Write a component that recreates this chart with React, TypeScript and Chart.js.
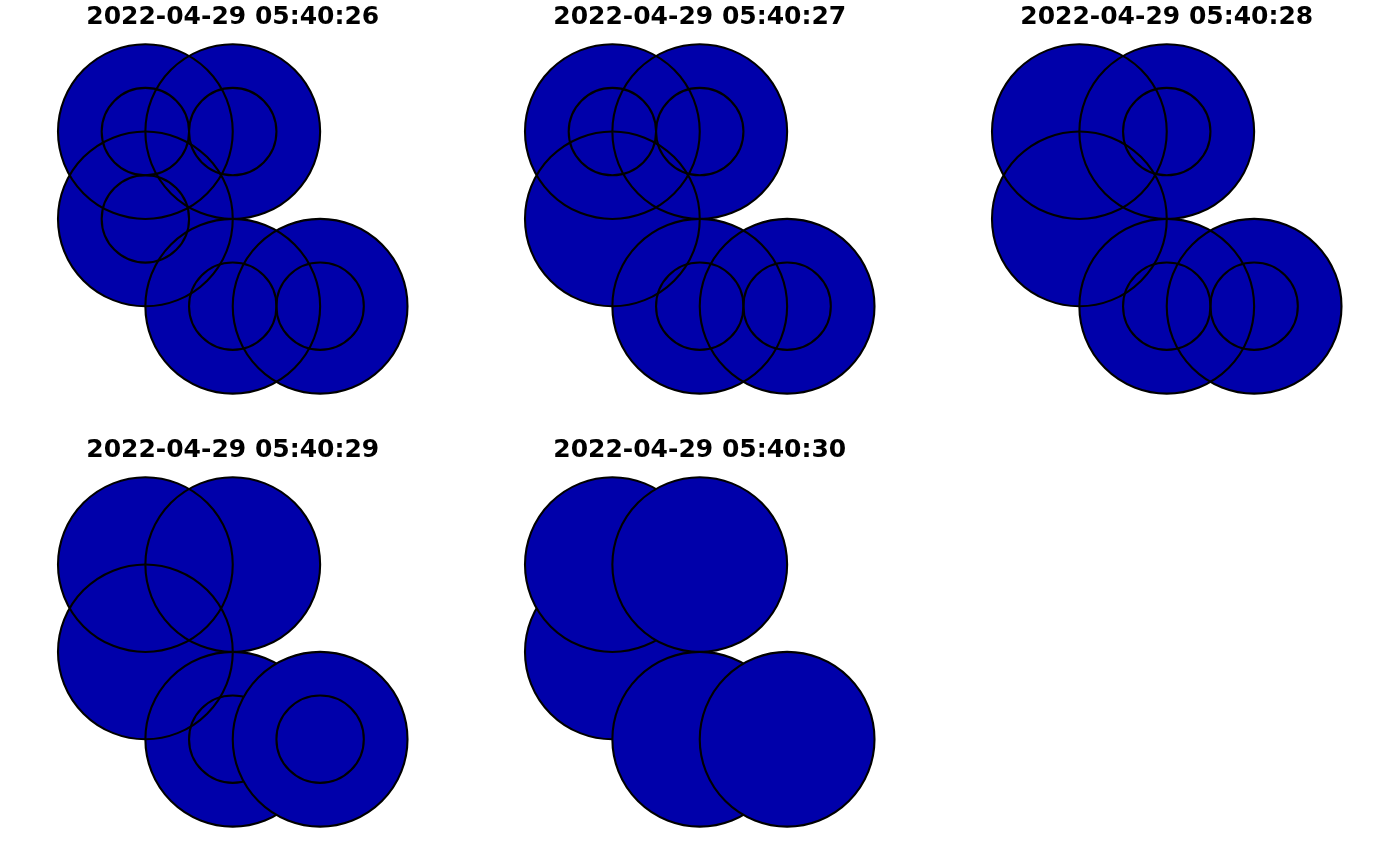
import React, { useEffect, useRef } from "react";
import { Chart, registerables } from "chart.js";

Chart.register(...registerables);

// Panel titles (one per time step)
const panelTitles = [
  "2022-04-29 05:40:26",
  "2022-04-29 05:40:27",
  "2022-04-29 05:40:28",
  "2022-04-29 05:40:29",
  "2022-04-29 05:40:30",
];

// Five sites (same positions in every panel)
const siteX = [1, 2, 1, 2, 3];
const siteY = [3, 3, 2, 1, 1];
const outerRadius = [1, 1, 1, 1, 1];
const innerRadius = [0.5, 0.5, 0.5, 0.5, 0.5];

// Whether the inner circle is present, per panel, per site
const innerShown = [
  [1, 1, 1, 1, 1],
  [1, 1, 0, 1, 1],
  [0, 1, 0, 1, 1],
  [0, 0, 0, 1, 1],
  [0, 0, 0, 0, 0],
];

// Drawing layers per panel (site indices drawn together)
const drawLayers = [
  [[0, 1, 2, 3, 4]],
  [[0, 1, 2, 3, 4]],
  [[0, 1, 2, 3, 4]],
  [[0, 1, 2, 3], [4]],
  [[2], [0], [1], [3], [4]],
];

const axisMin = 0;
const axisMax = 4;

const FILL = "#0000AA";
const STROKE = "#000000";

const PANEL_W = 466;
const PANEL_H = 433;
const panelLeft = [0, 467, 934, 0, 467];
const panelTop = [0, 0, 0, 433, 433];

function radiusPx(ctx: any): number {
  const raw = ctx && ctx.raw;
  if (!raw || typeof raw.r !== "number") return 0;
  const s = ctx.chart.scales.x;
  return Math.abs(s.getPixelForValue(raw.r) - s.getPixelForValue(0));
}

function buildDatasets(panel: number) {
  const layers = drawLayers[panel];
  const seq: any[] = [];
  layers.forEach((layer) => {
    const fillPts = layer.map((i) => ({ x: siteX[i], y: siteY[i], r: outerRadius[i] }));
    const strokePts: any[] = [];
    layer.forEach((i) => strokePts.push({ x: siteX[i], y: siteY[i], r: outerRadius[i] }));
    layer.forEach((i) => {
      if (innerShown[panel][i]) strokePts.push({ x: siteX[i], y: siteY[i], r: innerRadius[i] });
    });
    seq.push({
      data: fillPts,
      pointBackgroundColor: FILL,
      pointBorderColor: FILL,
      pointBorderWidth: 0,
    });
    seq.push({
      data: strokePts,
      pointBackgroundColor: "rgba(0,0,0,0)",
      pointBorderColor: STROKE,
      pointBorderWidth: 2.1,
    });
  });
  const n = seq.length;
  return seq.map((d, k) => ({
    ...d,
    showLine: false,
    clip: false,
    order: n - k,
    pointRadius: radiusPx,
    pointHoverRadius: radiusPx,
    pointHitRadius: 0,
    pointStyle: "circle",
  }));
}

function Panel({ index }: { index: number }) {
  const ref = useRef<HTMLCanvasElement | null>(null);
  useEffect(() => {
    if (!ref.current) return;
    const chart = new Chart(ref.current, {
      type: "scatter",
      data: { datasets: buildDatasets(index) as any },
      options: {
        animation: false,
        responsive: false,
        events: [],
        layout: { padding: { left: 58, right: 58.5, top: 0, bottom: 39.5 } },
        plugins: {
          legend: { display: false },
          tooltip: { enabled: false },
          title: {
            display: true,
            text: panelTitles[index],
            color: "#000000",
            font: { family: "DejaVu Sans", weight: "bold", size: 25, lineHeight: 1.2 },
            padding: { top: 2, bottom: 12.3 },
          },
        },
        scales: {
          x: { type: "linear", min: axisMin, max: axisMax, display: false },
          y: { type: "linear", min: axisMin, max: axisMax, display: false },
        },
      } as any,
    });
    return () => chart.destroy();
  }, [index]);
  return (
    <div
      style={{
        position: "absolute",
        left: panelLeft[index],
        top: panelTop[index],
        width: PANEL_W,
        height: PANEL_H,
      }}
    >
      <canvas ref={ref} width={PANEL_W} height={PANEL_H} style={{ display: "block" }} />
    </div>
  );
}

export default function App() {
  return (
    <div
      style={{
        position: "fixed",
        left: 0,
        top: 0,
        width: 1400,
        height: 866,
        background: "#ffffff",
        overflow: "hidden",
      }}
    >
      {panelTitles.map((_, i) => (
        <Panel key={i} index={i} />
      ))}
    </div>
  );
}
